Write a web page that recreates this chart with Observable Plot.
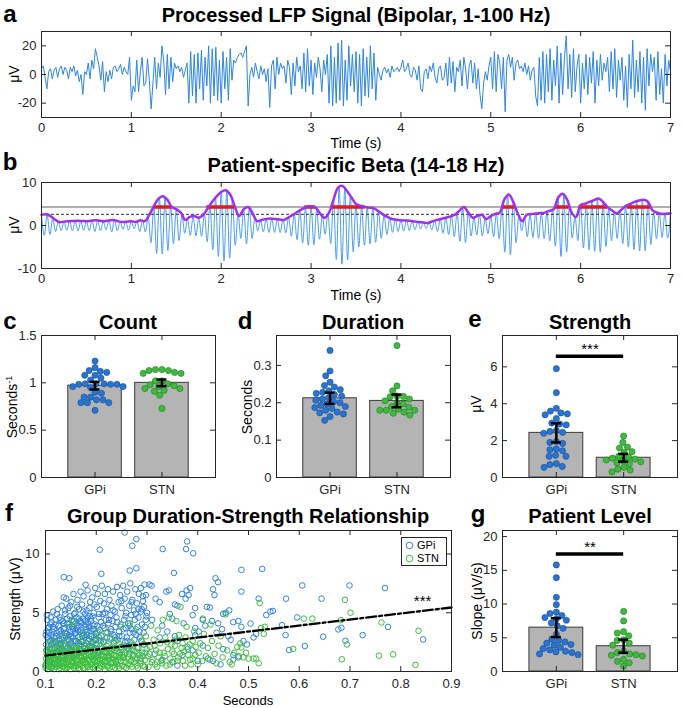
<!DOCTYPE html>
<html><head><meta charset="utf-8">
<script src="https://cdn.jsdelivr.net/npm/d3@7"></script>
<script src="https://cdn.jsdelivr.net/npm/@observablehq/plot@0.6"></script>
<style>
body{margin:0;background:#fff;font-family:"Liberation Sans",Arial,Helvetica,sans-serif;}
#fig{position:relative;width:682px;height:708px;overflow:hidden;background:#fff;}
#fig svg{display:block;}
</style></head><body><div id="fig"></div>
<script>
// ---------------- DATA ----------------
// Panel a: processed LFP (µV), sampled every lfpDt seconds
const lfpDt = 0.02;
const lfp = [
 4,6,-2,-10,2,4,-3,3,5,-2,4,6,0,5,3,-3,5,2,6,-1,3,-5,0,-14,2,
 0,8,-3,10,4,18,12,6,-4,9,-12,2,-5,3,-3,5,6,2,4,7,0,5,2,0,12,
 -18,-8,-12,10,-12,2,12,-8,-6,11,-4,-24,-6,12,-10,8,-2,20,10,-14,14,-10,12,-5,8,
 4,6,2,5,-2,3,8,-20,16,-15,14,-20,15,-10,17,-18,12,-8,20,-20,18,-15,19,-18,10,
 -20,16,-10,12,-18,18,-4,10,8,12,14,15,12,16,20,-22,0,5,-2,8,2,-3,6,0,4,
 -5,4,-23,6,10,-10,12,0,8,4,6,-6,10,5,-14,8,-8,12,2,6,-10,15,-12,18,-8,
 10,-14,8,-2,12,4,-12,10,0,14,-20,20,-22,12,-20,22,-18,24,-22,10,-18,20,-8,14,-12,
 16,-20,14,-22,18,-15,12,-16,20,-10,15,-18,5,0,-4,3,5,1,4,-2,6,2,3,5,2,
 5,10,2,4,8,0,-2,5,3,-4,6,-10,-12,2,4,-3,6,2,8,-2,-6,4,6,-4,-2,
 8,-8,12,-6,9,-12,5,2,10,-8,12,4,-10,6,10,-6,8,-10,4,-14,-24,-6,2,-4,6,
 12,-10,16,-12,14,8,-10,12,-26,10,14,5,12,-4,8,10,4,6,2,8,0,6,-4,3,5,
 -15,-22,12,-18,16,-20,14,-12,18,-18,10,-8,20,-20,15,-14,12,27,-10,14,-16,18,-12,6,14,
 -20,8,-10,14,-14,12,-6,16,-20,10,-8,14,-4,8,2,12,-12,16,-10,18,-16,10,-4,12,-18,
 6,-23,14,-10,24,-16,10,-12,16,-20,12,-25,18,-8,14,2,12,-18,16,-14,4,-20,14,-8,10,
 2];
// Panel b: beta-band signal, successive peaks/troughs (µV), every betaDt seconds
const betaDt = 1/32;
const betaExtrema = [
 2.4,-2.3,2.5,-2.1,1.6,-1.4,0.9,-1.2, 0.8,-1.1,1.0,-1.2,1.0,-1.3,1.0,-1.1,
 0.9,-1.2,1.1,-1.4,1.1,-1.2,0.9,-1.0, 1.2,-1.5,1.3,-1.2,0.8,-0.9,0.9,-1.1,
 1.0,-0.8,1.1,-1.4,1.1,-1.5,2.0,-4.0, 4.6,-6.5,6.4,-6.6,6.5,-5.8,4.6,-4.2,
 3.8,-3.5,2.6,-1.8,1.5,-2.3,2.1,-2.4, 1.8,-2.5,2.7,-3.8,4.7,-5.6,6.4,-7.2,
 7.8,-8.2,8.0,-7.6,6.1,-4.6,2.8,-3.0, 3.8,-4.3,4.0,-3.0,1.8,-1.2,1.2,-1.5,
 1.5,-1.6,1.5,-1.6,1.4,-1.6,1.4,-1.7, 1.9,-2.5,2.7,-3.3,3.5,-4.1,4.2,-4.6,
 4.5,-4.5,3.9,-3.2,2.4,-2.0,2.6,-4.2, 6.0,-7.9,9.0,-9.0,8.6,-8.0,6.9,-6.1,
 5.0,-5.0,4.5,-4.6,4.2,-4.3,4.0,-3.9, 3.3,-3.0,2.4,-2.1,1.8,-1.6,1.4,-1.4,
 1.2,-1.3,1.2,-1.2,1.0,-1.0,0.9,-0.8, 0.7,-0.7,0.7,-1.0,1.2,-1.4,1.5,-1.8,
 1.8,-2.1,2.2,-2.6,3.0,-3.7,4.1,-4.0, 3.0,-2.4,1.9,-2.2,2.4,-2.4,1.6,-1.9,
 2.2,-2.6,2.8,-3.1,4.2,-6.2,7.0,-6.8, 5.5,-4.0,2.3,-1.2,1.8,-2.6,2.6,-2.8,
 2.8,-3.0,2.9,-3.1,3.2,-3.6,3.6,-4.8, 6.5,-7.2,7.0,-6.2,4.5,-2.9,2.1,-3.5,
 4.8,-5.2,5.2,-5.6,5.7,-6.0,6.2,-6.2, 5.5,-4.9,4.0,-3.6,3.1,-3.0,3.5,-4.2,
 4.5,-5.0,5.1,-5.6,5.6,-5.9,5.9,-5.9, 5.5,-4.4,3.2,-3.1,2.8,-2.8,2.7,-2.9,
 2.8];
// Panel b: amplitude envelope (µV), every envDt seconds
const envDt = 0.05;
const envelope = [
 2.5,2.6,2.2,1.4,0.8,0.9,1.0,1.05,1.1,1.05,1.0,1.1,1.2,1.1,1.0,1.15,1.3,1.0,0.8,0.9,
 1.0,0.8,1.2,1.0,2.5,4.5,6.2,6.8,6.0,4.3,3.8,3.0,1.3,2.0,2.2,1.8,2.5,4.0,5.5,6.8,
 7.8,8.2,7.2,4.5,2.2,3.8,4.3,2.8,1.0,1.3,1.5,1.6,1.5,1.4,1.3,1.9,2.5,3.2,3.8,4.3,
 4.5,4.2,2.8,1.8,3.0,6.0,8.8,9.2,8.0,6.5,5.0,4.6,4.3,4.15,4.0,3.3,2.6,2.0,1.5,1.35,
 1.2,1.15,1.1,0.95,0.8,0.7,0.6,0.95,1.3,1.55,1.8,2.1,2.5,3.4,4.3,3.0,1.8,2.2,2.5,1.5,
 2.2,2.7,3.0,6.0,7.2,5.5,2.8,1.0,2.5,2.65,2.8,2.9,3.0,3.4,3.8,6.5,7.4,6.0,3.0,2.0,
 4.8,5.1,5.5,5.9,6.3,5.5,4.2,3.5,2.8,3.6,4.5,5.0,5.5,5.8,6.0,5.5,3.5,3.0,2.7,2.75,
 2.8];
const thresholdHigh = 4.3;   // burst threshold (solid)
const thresholdLow = 2.6;    // dashed reference
const burstStart = [1.25,1.84,2.93,3.22,5.12,5.72,5.98,6.52];
const burstEnd   = [1.45,2.15,3.05,3.60,5.27,5.87,6.30,6.78];
const timeTicks = [0,1,2,3,4,5,6,7];

// Bar panels (patient level)
const groups = ["GPi","STN"];
const countMean = [0.97,1.00], countSem = [0.04,0.035];
const countGPi = [1.23,1.16,1.13,1.12,1.11,1.08,1.08,1.05,1.03,0.99,0.99,0.99,0.985,0.985,0.985,0.96,0.96,0.95,0.90,0.89,0.85,0.85,0.82,0.82,0.79,0.79,0.79,0.71];
const countSTN = [1.14,1.14,1.13,1.13,1.11,1.10,1.10,1.02,1.02,0.99,0.98,0.97,0.96,0.94,0.94,0.92,0.91,0.87,0.73];
const durMean = [0.212,0.205], durSem = [0.015,0.017];
const durGPi = [0.34,0.285,0.272,0.255,0.246,0.242,0.235,0.232,0.228,0.225,0.222,0.218,0.214,0.21,0.207,0.203,0.2,0.197,0.193,0.19,0.187,0.185,0.18,0.175,0.173,0.17,0.163,0.153];
const durSTN = [0.353,0.245,0.232,0.218,0.217,0.216,0.21,0.205,0.2,0.197,0.19,0.188,0.183,0.18,0.18,0.18,0.175,0.172,0.167];
const strMean = [2.42,1.07], strSem = [0.52,0.21];
const strGPi = [5.9,4.6,3.75,3.6,3.5,3.45,3.4,3.2,2.95,2.9,2.85,2.55,2.5,2.45,2.4,1.95,1.9,1.85,1.55,1.5,1.45,1.2,1.15,1.15,0.75,0.7,0.6,0.55];
const strSTN = [2.25,1.9,1.65,1.6,1.4,1.35,1.15,1.1,1.05,1.0,0.95,0.9,0.85,0.8,0.75,0.55,0.45,0.4,0.3];
const strSig = {a: 1, b: 2, y: 6.58, label: "***"};
const slopeMean = [6.5,3.75], slopeSem = [1.4,0.97];
const slopeGPi = [15.8,13.9,11.0,9.9,8.8,8.6,8.3,8.0,7.8,7.6,7.2,6.8,6.4,5.5,4.8,4.6,4.4,4.2,4.0,3.9,3.6,3.4,3.2,3.0,2.9,2.8,2.6,2.5];
const slopeSTN = [8.9,7.5,5.9,5.7,5.3,4.7,4.6,4.2,3.9,3.0,2.8,2.6,2.5,2.4,2.3,1.8,1.5,1.3,0.8];
const slopeSig = {a: 1, b: 2, y: 17.4, label: "**"};

// Panel f: bursts [duration (s), strength (µV)]
const burstsGPi = [
 [0.256,11.83],[0.279,11.27],[0.271,10.7],[0.207,10.37],[0.331,10.42],[0.379,11.07],[0.377,10.42],[0.391,10.06],[0.210,8.31],[0.266,8.59],
 [0.279,8.79],[0.353,8.39],[0.136,8.03],[0.147,7.94],[0.179,7.38],[0.486,8.65],[0.527,8.73],[0.606,7.32],[0.699,7.32],[0.769,7.1],
 [0.435,7.94],[0.44,7.6],[0.486,6.8],[0.43,7.0],[0.433,6.5],[0.52,6.2],[0.574,6.2],[0.644,6.2],[0.596,4.6],[0.543,5.1],
 [0.548,5.15],[0.535,4.8],[0.566,3.94],[0.573,3.1],[0.58,1.83],[0.611,2.17],[0.647,2.96],[0.677,3.58],[0.683,3.72],[0.691,2.62],
 [0.725,3.1],[0.775,3.8],[0.844,2.73],[0.504,4.08],[0.486,3.8],[0.51,2.9],[0.515,3.2],[0.49,2.6],[0.497,2.3],[0.46,3.0],
 [0.465,2.7],[0.448,3.6],[0.455,5.0],[0.462,5.2],[0.45,4.9],[0.418,5.5],[0.424,5.45],[0.41,4.4],[0.402,3.4],[0.395,3.1],
 [0.41,2.2],[0.42,1.1],[0.43,0.9],[0.445,0.6],[0.47,1.4],[0.48,4.3],[0.47,4.2],[0.385,7.1],[0.378,6.9],[0.382,6.5],
 [0.376,6.2],[0.369,6.6],[0.36,5.6],[0.355,5.7],[0.35,4.5],[0.372,4.1],[0.39,4.8],[0.395,5.4],[0.345,4.9],[0.338,6.8],
 [0.343,6.9],[0.325,5.9],[0.317,6.2],[0.305,7.4],[0.309,7.3],[0.295,7.4],[0.298,6.5],[0.288,7.1],[0.292,6.0],[0.283,5.3],
 [0.3,5.0],[0.31,4.4],[0.33,3.9],[0.34,3.4],[0.355,3.0],[0.36,2.6],[0.325,2.9],[0.315,1.5],[0.33,1.0],[0.35,0.8],
 [0.37,1.4],[0.38,2.1],[0.39,1.8],[0.4,0.9],[0.395,3.7],[0.415,3.9],[0.428,4.3],[0.44,4.1],[0.437,3.3],[0.36,0.5],
 [0.45,1.9],[0.47,1.0],[0.48,1.2],
 [0.100,0.5],[0.101,2.3],[0.102,3.4],[0.103,4.4],[0.104,1.3],[0.105,2.9],[0.106,0.8],[0.107,3.8],[0.108,1.9],[0.109,2.6],
 [0.110,1.6],[0.111,3.1],[0.112,4.2],[0.113,0.4],[0.114,2.5],[0.115,5.1],[0.116,1.1],[0.117,3.6],[0.118,2.0],[0.119,2.8],
 [0.120,4.0],[0.121,1.4],[0.122,3.3],[0.123,2.2],[0.124,5.3],[0.125,0.9],[0.126,3.9],[0.127,2.7],[0.128,4.6],[0.129,1.8],
 [0.130,3.5],[0.131,2.4],[0.132,5.6],[0.133,1.2],[0.134,4.3],[0.135,2.9],[0.136,6.3],[0.137,3.7],[0.138,1.6],[0.139,4.9],
 [0.140,2.2],[0.141,6.2],[0.142,3.2],[0.143,4.1],[0.144,1.0],[0.145,5.4],[0.146,2.7],[0.147,3.8],[0.148,4.7],[0.149,1.9],
 [0.150,3.0],[0.151,5.9],[0.152,4.4],[0.153,2.1],[0.154,3.6],[0.155,6.6],[0.156,1.4],[0.157,4.0],[0.158,2.6],[0.159,5.0],
 [0.160,3.3],[0.161,4.6],[0.162,1.7],[0.163,6.1],[0.164,2.9],[0.165,3.9],[0.166,5.3],[0.167,2.3],[0.168,4.3],[0.169,6.8],
 [0.170,1.3],[0.171,3.5],[0.172,5.7],[0.173,2.6],[0.174,4.5],[0.175,6.4],[0.176,3.1],[0.177,1.9],[0.178,4.9],[0.179,3.8],
 [0.180,2.4],[0.181,5.2],[0.182,3.4],[0.183,6.9],[0.184,4.1],[0.185,1.5],[0.186,2.8],[0.187,4.7],[0.188,5.9],[0.189,3.0],
 [0.190,4.3],[0.191,2.1],[0.192,6.3],[0.193,3.6],[0.194,1.1],[0.195,5.0],[0.196,2.7],[0.197,4.0],[0.198,7.1],[0.199,3.2],
 [0.200,2.0],[0.201,5.5],[0.202,3.9],[0.203,6.6],[0.204,1.4],[0.205,4.6],[0.206,2.9],[0.207,3.5],[0.208,6.0],[0.209,4.2],
 [0.210,3.0],[0.211,7.3],[0.212,1.7],[0.213,4.9],[0.214,2.5],[0.215,5.8],[0.216,3.7],[0.217,6.6],[0.218,0.9],[0.219,4.4],
 [0.220,2.2],[0.221,5.3],[0.222,3.3],[0.223,7.0],[0.224,4.1],[0.225,1.3],[0.226,6.1],[0.227,2.8],[0.228,4.8],[0.229,3.6],
 [0.230,5.6],[0.231,1.9],[0.232,4.3],[0.233,6.8],[0.234,3.1],[0.235,2.4],[0.237,5.1],[0.238,3.8],[0.239,0.8],
 [0.240,4.6],[0.241,7.2],[0.242,2.7],[0.244,5.9],[0.245,3.4],[0.246,1.6],[0.247,6.5],[0.248,4.0],[0.249,2.1],
 [0.250,5.4],[0.251,3.0],[0.253,7.3],[0.254,1.2],[0.255,4.4],[0.256,6.2],[0.257,2.5],[0.258,3.7],[0.259,5.0],
 [0.260,2.9],[0.261,6.8],[0.263,4.1],[0.264,1.8],[0.265,5.6],[0.266,3.3],[0.267,7.5],[0.268,2.2],[0.269,4.8],
 [0.270,3.6],[0.271,6.1],[0.273,1.4],[0.274,5.2],[0.275,2.7],[0.276,4.4],[0.277,7.0],[0.279,3.1],
 [0.280,5.8],[0.281,2.0],[0.283,4.6],[0.284,6.6],[0.285,3.4],[0.287,1.1],[0.288,5.1],[0.289,2.6],
 [0.290,4.0],[0.292,6.4],[0.293,2.3],[0.294,5.5],[0.296,3.8],[0.297,1.6],[0.299,4.7],
 [0.1015,1.8],[0.1035,2.9],[0.1055,3.7],[0.1075,1.2],[0.1095,4.0],[0.1115,2.3],[0.1135,3.4],[0.1155,1.5],[0.1175,2.6],[0.1195,4.4],
 [0.1215,3.0],[0.1235,1.7],[0.1255,3.9],[0.1275,2.0],[0.1295,3.2],[0.1315,1.9],[0.1335,3.0],[0.1355,4.1],[0.1375,2.4],[0.1395,3.3],
 [0.1415,1.6],[0.1435,2.8],[0.1455,4.0],[0.1475,2.3],[0.1495,3.4],[0.1515,1.8],[0.1535,2.9],[0.1555,4.3],[0.1575,3.2],[0.1595,2.0],
 [0.1615,3.7],[0.1635,2.4],[0.1655,1.9],[0.1675,3.4],[0.1695,4.2],[0.1715,2.5],[0.1735,3.3],[0.1755,1.7],[0.1775,2.9],[0.1795,4.0],
 [0.1815,3.1],[0.1835,1.9],[0.1855,3.8],[0.1875,2.2],[0.1895,4.5],[0.1915,3.0],[0.1935,2.5],[0.1955,3.6],[0.1975,1.8],[0.1995,2.7],
 [0.1005,3.1],[0.1025,4.8],[0.1045,2.1],[0.1065,3.3],[0.1085,0.9],[0.1105,4.6],[0.1125,1.9],[0.1145,3.8],[0.1165,2.9],[0.1185,0.7],
 [0.1205,2.5],[0.1225,4.9],[0.1245,1.5],[0.1265,3.4],[0.1285,2.3],[0.1305,4.4],[0.1325,2.7],[0.1345,1.4],[0.1365,3.6],[0.1385,5.2],
 [0.1405,3.0],[0.1425,4.5],[0.1445,2.0],[0.1465,3.1],[0.1485,5.6],[0.1505,2.4],[0.1525,3.8],[0.1545,1.2],[0.1565,4.9],[0.1585,3.5],
 [0.1605,2.6],[0.1625,5.5],[0.1645,3.5],[0.1665,4.5],[0.1685,2.2],[0.1705,4.1],[0.1725,3.0],[0.1745,5.1],[0.1765,2.2],[0.1785,4.3],
 [0.1805,3.6],[0.1825,4.6],[0.1845,2.6],[0.1865,5.4],[0.1885,3.5],[0.1905,2.4],[0.1925,4.7],[0.1945,3.9],[0.1965,5.7],[0.1985,2.3],
 [0.2015,3.3],[0.2055,4.9],[0.2095,2.6],[0.2135,3.9],[0.2175,5.0],[0.2215,2.9],[0.2255,4.4],[0.2295,3.4],[0.2335,5.2],[0.2375,2.9],
 [0.2415,4.2],[0.2455,3.0],[0.2495,6.0],[0.2535,3.6],[0.2575,4.7],[0.2615,2.6],[0.2655,3.9],[0.2695,5.9],[0.2735,3.3],[0.2775,4.9],
 [0.2815,3.8],[0.2855,2.9],[0.2895,5.3],[0.2935,3.3],[0.2975,4.4]
];
const burstsSTN = [
 [0.100,0.3],[0.101,1.1],[0.102,0.7],[0.103,1.8],[0.104,0.2],[0.105,1.4],[0.106,0.9],[0.107,2.3],[0.108,0.5],[0.109,1.2],
 [0.110,0.8],[0.111,1.6],[0.112,0.3],[0.113,2.0],[0.114,1.0],[0.115,0.5],[0.116,1.3],[0.117,2.6],[0.118,0.6],[0.119,1.7],
 [0.120,1.1],[0.121,0.4],[0.122,1.9],[0.123,0.8],[0.124,2.4],[0.125,1.4],[0.126,0.2],[0.127,1.0],[0.128,1.6],[0.129,0.6],
 [0.130,2.1],[0.131,0.9],[0.132,1.3],[0.133,0.4],[0.134,1.8],[0.135,0.7],[0.136,2.9],[0.137,1.2],[0.138,0.3],[0.139,1.5],
 [0.140,0.6],[0.141,1.9],[0.142,1.1],[0.143,2.5],[0.144,0.4],[0.145,1.4],[0.146,0.8],[0.147,4.1],[0.148,1.7],[0.149,0.2],
 [0.150,1.3],[0.151,0.5],[0.152,2.2],[0.153,0.9],[0.154,1.6],[0.155,4.2],[0.156,0.3],[0.157,1.1],[0.158,1.9],[0.159,0.7],
 [0.160,1.5],[0.161,0.4],[0.162,2.0],[0.163,1.0],[0.164,0.6],[0.165,2.7],[0.166,1.3],[0.167,0.2],[0.168,1.8],[0.169,0.9],
 [0.170,1.2],[0.171,2.3],[0.172,0.5],[0.173,1.6],[0.174,0.8],[0.175,3.2],[0.176,1.0],[0.177,0.3],[0.178,2.0],[0.179,1.4],
 [0.180,0.7],[0.181,1.8],[0.182,1.1],[0.183,2.6],[0.184,0.4],[0.185,1.5],[0.186,0.9],[0.187,2.1],[0.188,0.2],[0.189,1.3],
 [0.190,1.7],[0.191,0.6],[0.192,2.4],[0.193,1.0],[0.194,0.3],[0.195,1.4],[0.196,3.0],[0.197,0.8],[0.198,1.9],[0.199,1.2],
 [0.200,0.5],[0.201,2.2],[0.202,1.3],[0.203,0.9],[0.204,3.4],[0.205,1.6],[0.206,0.3],[0.207,1.1],[0.208,2.7],[0.209,0.7],
 [0.210,1.4],[0.211,0.4],[0.212,2.0],[0.213,1.0],[0.214,0.6],[0.215,2.5],[0.216,1.7],[0.217,0.2],[0.218,1.2],[0.219,3.3],
 [0.220,0.8],[0.221,1.9],[0.222,1.3],[0.223,0.5],[0.224,2.3],[0.225,1.0],[0.226,0.3],[0.227,1.6],[0.228,2.9],[0.229,0.7],
 [0.230,1.5],[0.231,0.4],[0.232,2.1],[0.233,1.1],[0.234,0.8],[0.236,1.8],[0.237,0.3],[0.238,2.6],[0.239,1.3],
 [0.240,0.6],[0.241,1.7],[0.243,1.0],[0.244,2.4],[0.245,0.3],[0.246,1.4],[0.248,3.8],[0.249,0.9],
 [0.250,1.9],[0.251,0.5],[0.253,1.2],[0.254,2.2],[0.256,0.8],[0.257,1.6],[0.259,0.3],
 [0.260,1.1],[0.262,2.0],[0.263,0.6],[0.265,1.5],[0.266,4.1],[0.268,0.9],[0.269,2.5],
 [0.270,0.4],[0.272,1.3],[0.273,2.2],[0.275,0.8],[0.277,1.7],[0.278,3.6],
 [0.280,1.1],[0.282,0.3],[0.283,2.0],[0.285,1.4],[0.287,0.7],[0.289,2.6],
 [0.290,1.6],[0.292,0.5],[0.294,2.3],[0.296,1.0],[0.298,3.0],
 [0.301,1.3],[0.303,0.4],[0.306,2.1],[0.308,3.9],[0.311,1.0],[0.313,2.7],[0.316,0.6],[0.318,1.8],[0.321,3.5],[0.323,1.2],
 [0.326,2.4],[0.328,0.9],[0.331,4.4],[0.333,1.6],[0.336,2.9],[0.338,0.5],[0.341,1.9],[0.343,4.6],[0.346,1.1],[0.348,2.3],
 [0.351,0.8],[0.353,1.5],[0.356,2.7],[0.358,4.3],[0.361,1.2],[0.363,3.1],[0.366,5.5],[0.368,2.0],[0.371,0.9],[0.373,1.7],
 [0.376,2.9],[0.378,3.8],[0.381,1.4],[0.384,2.3],[0.387,0.6],[0.39,1.1],[0.393,3.4],[0.396,2.1],
 [0.402,1.6],[0.405,2.4],[0.409,0.9],[0.412,3.2],[0.416,1.3],[0.42,2.0],[0.424,1.0],[0.428,2.6],[0.433,1.5],[0.437,0.7],
 [0.441,2.2],[0.445,3.0],[0.449,1.2],[0.455,4.87],[0.458,1.8],[0.463,0.8],[0.467,0.6],[0.472,1.6],[0.478,2.1],[0.481,1.3],
 [0.484,2.4],[0.486,2.05],[0.49,1.2],[0.495,1.6],[0.5,1.1],[0.41,4.5],[0.425,4.0],
 [0.51,1.1],[0.515,1.1],[0.52,0.7],[0.522,5.83],[0.532,3.8],[0.525,3.7],[0.53,3.2],[0.588,1.92],[0.609,4.5],[0.626,4.5],
 [0.69,6.1],[0.701,5.0],[0.682,4.37],[0.762,4.17],[0.835,3.46],[0.684,1.04],[0.757,1.35],[0.785,1.46],[0.829,0.56],[0.694,2.3],
 [0.1005,0.6],[0.1025,1.5],[0.1045,1.0],[0.1065,0.4],[0.1085,1.9],[0.1105,1.2],[0.1125,0.7],[0.1145,1.5],[0.1165,0.2],[0.1185,1.1],
 [0.1205,0.9],[0.1225,1.4],[0.1245,0.5],[0.1265,1.7],[0.1285,0.3],[0.1305,1.2],[0.1325,0.7],[0.1345,2.2],[0.1365,0.5],[0.1385,1.0],
 [0.1405,1.3],[0.1425,0.3],[0.1445,1.6],[0.1465,1.1],[0.1485,0.5],[0.1505,1.8],[0.1525,0.8],[0.1545,1.2],[0.1565,0.5],[0.1585,1.5],
 [0.1605,0.9],[0.1625,1.4],[0.1645,0.3],[0.1665,1.9],[0.1685,0.6],[0.1705,1.6],[0.1725,1.0],[0.1745,0.3],[0.1765,1.5],[0.1785,0.8],
 [0.1805,1.3],[0.1825,0.5],[0.1845,1.9],[0.1865,1.0],[0.1885,0.6],[0.1905,1.3],[0.1925,0.4],[0.1945,1.8],[0.1965,0.9],[0.1985,1.5],
 [0.2015,0.8],[0.2045,1.6],[0.2075,0.5],[0.2105,1.9],[0.2135,1.3],[0.2165,0.8],[0.2195,1.6],[0.2225,0.4],[0.2255,1.2],[0.2285,1.8],
 [0.2315,0.7],[0.2345,1.4],[0.2375,0.9],[0.2405,2.0],[0.2435,0.5],[0.2475,1.2],[0.2515,1.4],[0.2555,0.4],[0.2595,1.8],[0.2635,1.2],
 [0.2675,0.6],[0.2715,1.9],[0.2755,1.1],[0.2795,0.5],[0.2835,1.6],[0.2875,0.9],[0.2915,1.3],[0.2955,0.4],[0.2995,1.9],
 [0.305,1.5],[0.31,0.8],[0.315,2.2],[0.32,0.4],[0.325,1.6],[0.33,0.7],[0.335,1.3],[0.34,2.5],[0.345,0.6],[0.35,1.7],
 [0.355,2.2],[0.36,0.9],[0.365,1.5],[0.37,2.4],[0.375,0.5],[0.38,1.9],[0.385,1.0],[0.39,2.6],[0.395,1.4],[0.40,0.6]
];
// Group regression line (strength = b0 + b1 * duration) over the plotted duration range
const fitIntercept = 0.84, fitSlope = 5.12;
const fitRange = [0.1, 0.9];
const fitSig = {x: 0.843, y: 5.45, label: "***"};

// ---------------- DRAWING ----------------
const AX = "#262626";
const FONT = '"Liberation Sans", Arial, Helvetica, sans-serif';
const BLUE_LINE = "#2f86de", BETA_BLUE = "#4a9ded", PURPLE = "#a02ff0", RED = "#f01515";
const BAR_FILL = "#b4b4b4", BAR_EDGE = "#3a3a3a";
const DOT_FILL = ["#2874d0", "#3fba3f"], DOT_EDGE = ["#1b4f95", "#247a24"];
const SC_COL = ["#3183de", "#3cbf3c"];
const fig = document.getElementById("fig");
const fmt = d => String(d);

function place(svg, left, top) {
  const d = document.createElement("div");
  d.style.cssText = `position:absolute;left:${left}px;top:${top}px;`;
  d.append(svg); fig.append(d);
}
function txt(html, x, y, o = {}) {
  const d = document.createElement("div");
  d.innerHTML = html;
  d.style.cssText = `position:absolute;left:${x}px;top:${y}px;transform:translate(-50%,-50%)${o.rot ? " rotate(-90deg)" : ""};` +
    `font-size:${o.size || 14}px;font-weight:${o.bold ? "bold" : "normal"};white-space:nowrap;line-height:1;color:${o.color || "#000"};font-family:${FONT};`;
  fig.append(d);
}
function boxTicks(xt, yt, fw, fh, len = 5) {
  const s = {stroke: AX, strokeWidth: 1};
  return [
    Plot.tickX(xt, {x: d => d, insetTop: fh - len, ...s}),
    Plot.tickX(xt, {x: d => d, insetBottom: fh - len, ...s}),
    Plot.tickY(yt, {y: d => d, insetRight: fw - len, ...s}),
    Plot.tickY(yt, {y: d => d, insetLeft: fw - len, ...s}),
    Plot.frame({stroke: AX, strokeWidth: 1})
  ];
}
const style = {fontFamily: FONT, fontSize: "13px", color: AX, background: "transparent", overflow: "visible"};

// ----- Panel a -----
{
  const W = 682, H = 122, mL = 41, mR = 12, mT = 11, mB = 25;
  const yt = [-20, 0, 20];
  place(Plot.plot({
    width: W, height: H, marginLeft: mL, marginRight: mR, marginTop: mT, marginBottom: mB, style,
    x: {domain: [0, 7], ticks: timeTicks, tickSize: 0, tickPadding: 5, tickFormat: fmt, label: null},
    y: {domain: [-30, 30], ticks: yt, tickSize: 0, tickPadding: 5, tickFormat: fmt, label: null},
    marks: [
      Plot.line(lfp, {x: (d, i) => i * lfpDt, y: d => d, stroke: BLUE_LINE, strokeWidth: 1}),
      ...boxTicks(timeTicks, yt, W - mL - mR, H - mT - mB)
    ]
  }), 0, 20);
}
// ----- Panel b -----
{
  const W = 682, H = 122, mL = 41, mR = 12, mT = 11, mB = 25;
  const yt = [-10, 0, 10];
  const bursts = burstStart.map((s, i) => ({s, e: burstEnd[i]}));
  place(Plot.plot({
    width: W, height: H, marginLeft: mL, marginRight: mR, marginTop: mT, marginBottom: mB, style,
    x: {domain: [0, 7], ticks: timeTicks, tickSize: 0, tickPadding: 5, tickFormat: fmt, label: null},
    y: {domain: [-10, 10], ticks: yt, tickSize: 0, tickPadding: 5, tickFormat: fmt, label: null},
    marks: [
      Plot.line(betaExtrema, {x: (d, i) => i * betaDt, y: d => d, curve: "monotone-x", stroke: BETA_BLUE, strokeWidth: 1}),
      Plot.ruleY([thresholdHigh], {stroke: "#606060", strokeWidth: 1.2}),
      Plot.ruleY([thresholdLow], {stroke: "#333", strokeWidth: 1, strokeDasharray: "3,2"}),
      Plot.ruleY(bursts, {y: thresholdHigh, x1: "s", x2: "e", stroke: RED, strokeWidth: 3.5}),
      Plot.line(envelope, {x: (d, i) => i * envDt, y: d => d, curve: "catmull-rom", stroke: PURPLE, strokeWidth: 2.5}),
      ...boxTicks(timeTicks, yt, W - mL - mR, H - mT - mB)
    ]
  }), 0, 171);
}

// ----- bar panels -----
function swarm(values, kyPx, r) {
  const D = 2 * r + 0.5;
  const order = d3.range(values.length).sort((a, b) => values[b] - values[a]);
  const placed = [], off = new Array(values.length);
  for (const i of order) {
    const y = values[i] * kyPx;
    const near = placed.filter(p => Math.abs(p.y - y) < D);
    const cands = [0];
    for (const p of near) { const w = Math.sqrt(D * D - (p.y - y) ** 2); cands.push(p.x - w, p.x + w); }
    cands.sort((a, b) => Math.abs(a) - Math.abs(b));
    let x = 0;
    for (const c of cands) {
      if (near.every(p => (p.x - c) ** 2 + (p.y - y) ** 2 >= D * D - 1e-6)) { x = c; break; }
    }
    placed.push({x, y}); off[i] = x;
  }
  return off;
}
function barPanel(c) {
  const {left, top, W, H, mL, mR, mT, mB, yDomain, yTicks, mean, sem, vals, sig} = c;
  const fw = W - mL - mR, fh = H - mT - mB;
  const kx = fw / 2.6, ky = fh / (yDomain[1] - yDomain[0]);
  const bars = groups.map((name, g) => ({pos: g + 1, mean: mean[g], sem: sem[g]}));
  const dotMarks = vals.map((arr, g) => {
    const off = swarm(arr, ky, 3);
    const pts = arr.map((v, i) => ({x: g + 1 + off[i] / kx, y: v}));
    return Plot.dot(pts, {x: "x", y: "y", r: 3.1, fill: DOT_FILL[g], stroke: DOT_EDGE[g], strokeWidth: 0.6});
  });
  const cap = 5 / kx;
  const marks = [
    Plot.rectY(bars, {x1: d => d.pos - 0.4, x2: d => d.pos + 0.4, y1: 0, y2: "mean", fill: BAR_FILL, stroke: BAR_EDGE, strokeWidth: 1}),
    ...dotMarks,
    Plot.ruleX(bars, {x: "pos", y1: d => d.mean - d.sem, y2: d => d.mean + d.sem, stroke: "#000", strokeWidth: 2.5}),
    Plot.ruleY(bars, {y: d => d.mean - d.sem, x1: d => d.pos - cap, x2: d => d.pos + cap, stroke: "#000", strokeWidth: 2.5}),
    Plot.ruleY(bars, {y: d => d.mean + d.sem, x1: d => d.pos - cap, x2: d => d.pos + cap, stroke: "#000", strokeWidth: 2.5}),
  ];
  if (sig) {
    marks.push(Plot.ruleY([sig], {y: "y", x1: "a", x2: "b", stroke: "#000", strokeWidth: 3.5}));
    marks.push(Plot.text([sig], {x: d => (d.a + d.b) / 2, y: "y", text: "label", dy: -7, fontSize: 15, fill: "#000"}));
  }
  marks.push(...boxTicks([1, 2], yTicks, fw, fh));
  place(Plot.plot({
    width: W, height: H, marginLeft: mL, marginRight: mR, marginTop: mT, marginBottom: mB, style,
    x: {domain: [0.2, 2.8], ticks: [1, 2], tickFormat: d => groups[d - 1], tickSize: 0, tickPadding: 7, label: null},
    y: {domain: yDomain, ticks: yTicks, tickSize: 0, tickPadding: 5, tickFormat: fmt, label: null},
    marks
  }), left, top);
}
barPanel({left: 0, top: 325, W: 226, H: 177, mL: 41, mR: 11, mT: 10, mB: 25, yDomain: [0, 1.5], yTicks: [0, 0.5, 1, 1.5],
  mean: countMean, sem: countSem, vals: [countGPi, countSTN]});
barPanel({left: 235, top: 325, W: 226, H: 177, mL: 41, mR: 11, mT: 10, mB: 25, yDomain: [0, 0.38], yTicks: [0, 0.1, 0.2, 0.3],
  mean: durMean, sem: durSem, vals: [durGPi, durSTN]});
barPanel({left: 461, top: 325, W: 221, H: 177, mL: 41, mR: 5, mT: 10, mB: 25, yDomain: [0, 7.7], yTicks: [0, 2, 4, 6],
  mean: strMean, sem: strSem, vals: [strGPi, strSTN], sig: strSig});
barPanel({left: 461, top: 520, W: 221, H: 176, mL: 41, mR: 5, mT: 10, mB: 25, yDomain: [0, 20.9], yTicks: [0, 5, 10, 15, 20],
  mean: slopeMean, sem: slopeSem, vals: [slopeGPi, slopeSTN], sig: slopeSig});

// ----- Panel f -----
{
  const W = 461, H = 186, mL = 45, mR = 10, mT = 10, mB = 35;
  const xt = [0.1, 0.2, 0.3, 0.4, 0.5, 0.6, 0.7, 0.8, 0.9], yt = [0, 5, 10];
  place(Plot.plot({
    width: W, height: H, marginLeft: mL, marginRight: mR, marginTop: mT, marginBottom: mB, style,
    x: {domain: [0.1, 0.9], ticks: xt, tickSize: 0, tickPadding: 7, tickFormat: d3.format(".1f"), label: null},
    y: {domain: [0, 12], ticks: yt, tickSize: 0, tickPadding: 6, tickFormat: fmt, label: null},
    marks: [
      Plot.dot(burstsGPi, {x: "0", y: "1", r: 2.8, stroke: SC_COL[0], strokeWidth: 1, fill: "none"}),
      Plot.dot(burstsSTN, {x: "0", y: "1", r: 2.8, stroke: SC_COL[1], strokeWidth: 1, fill: "none"}),
      Plot.line(fitRange, {x: d => d, y: d => fitIntercept + fitSlope * d, stroke: "#000", strokeWidth: 2.3, strokeDasharray: "10,3,3,3"}),
      Plot.text([fitSig], {x: "x", y: "y", text: "label", dy: -6, fontSize: 15, fill: "#000"}),
      ...boxTicks(xt, yt, W - mL - mR, H - mT - mB)
    ]
  }), 0, 520);
}

// ----- legend in panel f -----
{
  const box = document.createElement("div");
  box.style.cssText = `position:absolute;left:401px;top:537px;width:46px;height:29px;border:1px solid ${AX};background:#fff;font-family:${FONT};font-size:11px;color:#000;box-sizing:border-box;`;
  groups.forEach((g, i) => {
    const row = document.createElement("div");
    row.style.cssText = `position:absolute;left:3px;top:${2 + i * 13}px;height:11px;display:flex;align-items:center;gap:3px;line-height:11px;`;
    row.innerHTML = `<svg width="9" height="9"><circle cx="4.5" cy="4.5" r="3.3" fill="none" stroke="${SC_COL[i]}" stroke-width="1"/></svg><span>${g}</span>`;
    box.append(row);
  });
  fig.append(box);
}

// ----- text: panel letters, titles, axis labels -----
txt("a", 10, 14, {bold: true, size: 24});
txt("Processed LFP Signal (Bipolar, 1-100 Hz)", 356, 15, {bold: true, size: 20});
txt("Time (s)", 356, 143, {size: 14});
txt("μV", 14, 74, {size: 14, rot: true});
txt("b", 10, 162, {bold: true, size: 24});
txt("Patient-specific Beta (14-18 Hz)", 356, 165, {bold: true, size: 20});
txt("Time (s)", 356, 295, {size: 14});
txt("μV", 14, 225, {size: 14, rot: true});
txt("c", 10, 321, {bold: true, size: 24});
txt("Count", 128, 322, {bold: true, size: 20});
txt("Seconds<sup style='font-size:9px'>-1</sup>", 12, 407, {size: 14, rot: true});
txt("d", 245, 321, {bold: true, size: 24});
txt("Duration", 363, 322, {bold: true, size: 20});
txt("Seconds", 247, 407, {size: 14, rot: true});
txt("e", 475, 319, {bold: true, size: 24});
txt("Strength", 590, 322, {bold: true, size: 20});
txt("μV", 476, 404, {size: 14, rot: true});
txt("f", 9, 513, {bold: true, size: 24});
txt("Group Duration-Strength Relationship", 248, 516, {bold: true, size: 20});
txt("Seconds", 248, 700, {size: 13});
txt("Strength (μV)", 15, 599, {size: 14, rot: true});
txt("g", 478, 514, {bold: true, size: 24});
txt("Patient Level", 590, 516, {bold: true, size: 20});
txt("Slope (μV/s)", 477, 601, {size: 14, rot: true});
</script></body></html>
